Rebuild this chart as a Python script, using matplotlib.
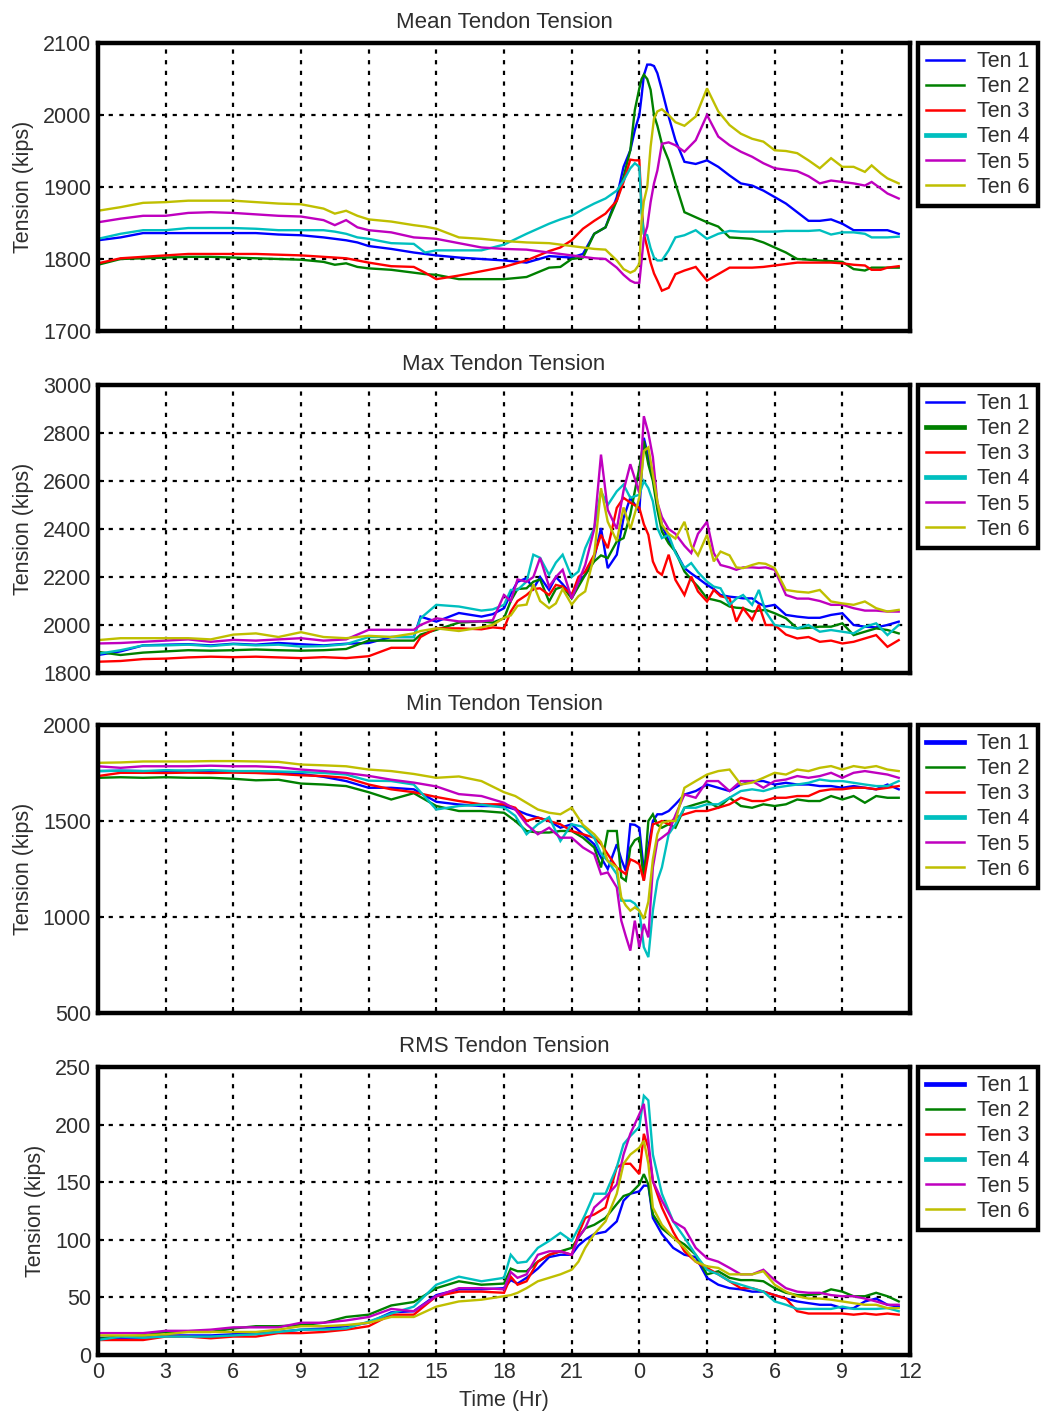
import matplotlib
matplotlib.use("Agg")
import matplotlib.pyplot as plt

plt.rcParams['font.family'] = ['Liberation Sans', 'DejaVu Sans']

# ---------------------------------------------------------------- labels
tendon_labels = ['Ten 1', 'Ten 2', 'Ten 3', 'Ten 4', 'Ten 5', 'Ten 6']
tendon_colors = ['#0000FF', '#008000', '#FF0000', '#00BFBF', '#BF00BF', '#BFBF00']
hour_ticks = [0, 3, 6, 9, 12, 15, 18, 21, 24, 27, 30, 33, 36]
hour_labels = ['0', '3', '6', '9', '12', '15', '18', '21', '0', '3', '6', '9', '12']

# ---------------------------------------------------------------- mean tension (kips)
mean_time = [0, 1, 2, 3, 4, 5, 6, 7, 8, 9, 10, 10.5, 11, 11.5, 12, 13, 14, 14.5, 15, 16, 17, 18,
             19, 20, 20.5, 21, 21.5, 22, 22.5, 23, 23.3, 23.6, 23.8, 24, 24.1, 24.2, 24.35, 24.5,
             24.65, 24.8, 25, 25.3, 25.6, 26, 26.5, 27, 27.5, 28, 28.5, 29, 29.5, 30, 30.5, 31,
             31.5, 32, 32.5, 33, 33.5, 34, 34.3, 34.7, 35, 35.5]
mean_ten1 = [1826, 1830, 1836, 1836, 1836, 1836, 1836, 1836, 1834, 1833, 1830,
             1828, 1826, 1823, 1818,
             1814, 1809, 1807, 1805, 1802, 1800, 1798,
             1795, 1804, 1803, 1802, 1807, 1835, 1844,
             1886, 1928, 1951, 1979, 2000,
             2026, 2055, 2070, 2070, 2068, 2058, 2035,
             1998, 1965, 1935, 1932, 1937, 1928, 1916,
             1905, 1902, 1895, 1886, 1877, 1865, 1853, 1853,
             1855, 1849, 1840, 1840, 1840, 1840, 1840, 1835]
mean_ten2 = [1792, 1800, 1801, 1802, 1803, 1803, 1802, 1801, 1800, 1799, 1796,
             1792, 1794, 1789, 1787,
             1785, 1781, 1779, 1778, 1772, 1772, 1772,
             1775, 1788, 1789, 1800, 1802, 1835, 1844,
             1881, 1914, 1951, 2007, 2037,
             2050, 2056, 2050, 2035, 2000, 1985, 1960,
             1937, 1905, 1865, 1858, 1851, 1845, 1830,
             1829, 1828, 1823, 1816, 1809, 1800, 1799, 1798,
             1797, 1796, 1786, 1784, 1788, 1788, 1788, 1788]
mean_ten3 = [1794, 1801, 1803, 1805, 1807, 1807, 1807, 1807, 1806, 1805, 1803,
             1802, 1801, 1798, 1795,
             1790, 1789, 1781, 1772, 1777, 1783, 1789,
             1798, 1811, 1816, 1826, 1842, 1853, 1863,
             1881, 1907, 1938, 1937, 1937,
             1872, 1835, 1816, 1795, 1780, 1770, 1756,
             1760, 1779, 1784, 1789, 1770, 1779, 1788,
             1788, 1788, 1789, 1791, 1793, 1795, 1795, 1795,
             1795, 1794, 1792, 1791, 1785, 1785, 1788, 1790]
mean_ten4 = [1828, 1835, 1840, 1840, 1843, 1843, 1843, 1842, 1840, 1840, 1840,
             1838, 1835, 1830, 1828,
             1822, 1821, 1809, 1812, 1812, 1812, 1820,
             1835, 1849, 1855, 1860, 1869, 1877, 1884,
             1895, 1909, 1926, 1933, 1928,
             1863, 1835, 1833, 1815, 1802, 1798, 1798,
             1812, 1830, 1833, 1840, 1828, 1835, 1839,
             1838, 1838, 1838, 1838, 1839, 1839, 1839, 1840,
             1834, 1837, 1837, 1835, 1830, 1830, 1830, 1831]
mean_ten5 = [1851, 1856, 1860, 1860, 1864, 1865, 1864, 1862, 1860, 1859, 1854,
             1847, 1854, 1844, 1840,
             1837, 1830, 1829, 1828, 1822, 1816, 1814,
             1813, 1809, 1807, 1805, 1803, 1801, 1800,
             1788, 1778, 1770, 1767, 1767,
             1798, 1830, 1845, 1879, 1905, 1923, 1960,
             1962, 1958, 1949, 1965, 2000, 1970, 1958,
             1949, 1942, 1933, 1926, 1924, 1922, 1915, 1905,
             1909, 1907, 1905, 1902, 1907, 1898, 1891, 1884]
mean_ten6 = [1867, 1872, 1878, 1879, 1881, 1881, 1881, 1879, 1877, 1876, 1870,
             1863, 1867, 1860, 1855,
             1852, 1847, 1845, 1842, 1830, 1828, 1825,
             1823, 1822, 1820, 1818, 1816, 1814, 1813,
             1798, 1786, 1781, 1784, 1793,
             1853, 1880, 1900, 1956, 1995, 2005, 2008,
             2000, 1990, 1985, 1998, 2037, 2005, 1986,
             1974, 1967, 1963, 1951, 1950, 1947, 1937, 1926,
             1940, 1928, 1928, 1921, 1930, 1919, 1912, 1905]

# ---------------------------------------------------------------- max tension (kips)
max_time = [0, 1, 2, 3, 4, 5, 6, 7, 8, 9, 10, 11, 12, 13, 14,
            14.3, 15, 16, 17, 17.5,
            18, 18.3, 18.6, 19, 19.3, 19.6, 20, 20.3, 20.6, 21, 21.3, 21.6, 22, 22.3, 22.6,
            23, 23.3, 23.6, 24, 24.2, 24.4, 24.6, 24.8, 25, 25.3, 25.6, 26, 26.3, 26.6,
            27, 27.3, 27.6, 28, 28.3, 28.6, 29, 29.3, 29.6, 30,
            30.5, 31, 31.5, 32, 32.5, 33, 33.5, 34, 34.5, 35, 35.5]
max_ten1 = [1875, 1890, 1915, 1918, 1920, 1915, 1922, 1918, 1925, 1920, 1915, 1922, 1925, 1950, 1950,
            2035, 2014, 2050, 2035, 2045,
            2070, 2130, 2180, 2195, 2150, 2200, 2146, 2200, 2170, 2125, 2180, 2209, 2279, 2404, 2237,
            2293, 2446, 2530, 2474, 2780, 2700, 2627, 2502, 2418, 2350, 2306, 2237, 2215, 2195,
            2167, 2150, 2125, 2118, 2115, 2111, 2111, 2090, 2077, 2084,
            2042, 2035, 2030, 2030, 2042, 2049, 2000, 1993, 1990, 2000, 2014]
max_ten2 = [1888, 1875, 1885, 1890, 1895, 1893, 1895, 1898, 1895, 1893, 1895, 1900, 1935, 1935, 1935,
            1960, 1980, 2010, 2015, 2010,
            2028, 2100, 2150, 2153, 2180, 2190, 2098, 2150, 2160, 2111, 2160, 2209, 2265, 2290, 2279,
            2348, 2362, 2460, 2655, 2767, 2669, 2600, 2480, 2390, 2340, 2306, 2223, 2190, 2160,
            2111, 2105, 2098, 2077, 2072, 2070, 2056, 2060, 2063, 2049,
            2028, 1986, 1988, 1993, 1993, 2007, 1958, 1972, 1986, 1979, 1965]
max_ten3 = [1847, 1850, 1858, 1860, 1865, 1868, 1866, 1868, 1865, 1862, 1866, 1862, 1870, 1905, 1905,
            1950, 1986, 1986, 1982, 1990,
            1986, 2056, 2100, 2125, 2150, 2153, 2125, 2167, 2160, 2125, 2200, 2223, 2293, 2376, 2320,
            2488, 2530, 2510, 2488, 2420, 2376, 2265, 2223, 2209, 2293, 2188, 2125, 2202, 2140,
            2098, 2146, 2120, 2111, 2014, 2070, 2021, 2084, 2000, 2000,
            1960, 1944, 1950, 1930, 1935, 1923, 1930, 1944, 1958, 1909, 1937]
max_ten4 = [1880, 1895, 1915, 1915, 1918, 1912, 1920, 1915, 1918, 1910, 1912, 1920, 1950, 1950, 1950,
            2028, 2084, 2077, 2060, 2065,
            2084, 2146, 2146, 2181, 2293, 2280, 2209, 2260, 2293, 2200, 2223, 2320, 2404, 2557, 2500,
            2557, 2585, 2530, 2543, 2600, 2570, 2515, 2404, 2362, 2376, 2300, 2237, 2258, 2220,
            2181, 2160, 2153, 2084, 2110, 2125, 2084, 2146, 2056, 2000,
            1993, 1986, 2000, 1972, 1979, 1972, 1965, 1993, 2007, 1958, 2000]
max_ten5 = [1923, 1925, 1930, 1935, 1940, 1930, 1938, 1935, 1940, 1945, 1935, 1940, 1980, 1980, 1980,
            2000, 2028, 2015, 2015, 2020,
            2125, 2100, 2190, 2180, 2200, 2280, 2160, 2200, 2230, 2110, 2180, 2250, 2400, 2710, 2480,
            2400, 2560, 2670, 2550, 2870, 2800, 2700, 2510, 2450, 2400, 2380, 2330, 2300, 2380,
            2430, 2300, 2250, 2240, 2230, 2240, 2240, 2238, 2240, 2230,
            2125, 2110, 2110, 2100, 2084, 2084, 2070, 2060, 2060, 2056, 2056]
max_ten6 = [1937, 1945, 1945, 1945, 1945, 1940, 1960, 1965, 1950, 1970, 1950, 1945, 1955, 1950, 1965,
            1975, 1986, 1975, 1990, 2000,
            2030, 2040, 2080, 2085, 2170, 2100, 2070, 2090, 2150, 2085, 2120, 2140, 2290, 2570, 2430,
            2350, 2490, 2400, 2530, 2725, 2740, 2627, 2515, 2418, 2380, 2360, 2430, 2330, 2290,
            2376, 2265, 2306, 2290, 2240, 2237, 2250, 2258, 2255, 2237,
            2146, 2139, 2135, 2146, 2098, 2090, 2084, 2098, 2070, 2056, 2063]

# ---------------------------------------------------------------- min tension (kips)
min_time = [0, 1, 2, 3, 4, 5, 6, 7, 8, 9, 10, 11, 12, 13, 14, 15, 16, 17, 18,
            18.5, 19, 19.5, 20, 20.5, 21, 21.5, 22, 22.3, 22.6, 23, 23.2, 23.4, 23.6, 23.8, 24,
            24.2, 24.4, 24.6, 24.8, 25, 25.3, 25.6, 26, 26.5, 27, 27.5, 28, 28.5, 29, 29.5, 30,
            30.5, 31, 31.5, 32, 32.5, 33, 33.5, 34, 34.5, 35, 35.5]
min_ten1 = [1760, 1762, 1760, 1758, 1762, 1760, 1760, 1758, 1750, 1745, 1730, 1708, 1673, 1673, 1665, 1600, 1586, 1578, 1578,
            1560, 1535, 1518, 1500, 1465, 1483, 1431, 1379, 1310, 1250, 1379, 1300, 1240, 1483, 1480, 1465,
            1240, 1362, 1500, 1535, 1535, 1552, 1587, 1638, 1656, 1690, 1673, 1656, 1690, 1708, 1708, 1690,
            1699, 1690, 1690, 1682, 1682, 1673, 1682, 1673, 1665, 1690, 1665]
min_ten2 = [1725, 1728, 1725, 1728, 1725, 1725, 1720, 1712, 1715, 1695, 1690, 1682, 1650, 1612, 1645, 1578, 1552, 1552, 1543,
            1500, 1448, 1440, 1440, 1448, 1448, 1413, 1362, 1258, 1448, 1448, 1206, 1189, 1362, 1400, 1413,
            1189, 1500, 1535, 1480, 1465, 1483, 1465, 1569, 1587, 1604, 1569, 1621, 1578, 1569, 1587, 1578,
            1587, 1612, 1604, 1604, 1630, 1612, 1630, 1595, 1630, 1621, 1621]
min_ten3 = [1734, 1751, 1751, 1750, 1752, 1750, 1752, 1750, 1745, 1738, 1734, 1725, 1690, 1665, 1650, 1625, 1604, 1587, 1587,
            1569, 1500, 1518, 1500, 1483, 1448, 1431, 1413, 1380, 1327, 1258, 1240, 1223, 1300, 1290, 1275,
            1189, 1327, 1483, 1490, 1500, 1483, 1518, 1535, 1552, 1552, 1569, 1587, 1621, 1604, 1604, 1621,
            1621, 1630, 1630, 1656, 1665, 1665, 1673, 1673, 1665, 1673, 1682]
min_ten4 = [1760, 1762, 1760, 1765, 1762, 1765, 1760, 1760, 1758, 1755, 1750, 1742, 1710, 1708, 1690, 1560, 1578, 1585, 1570,
            1527, 1431, 1483, 1520, 1396, 1483, 1470, 1413, 1330, 1292, 1223, 1085, 1085, 1085, 1070, 1033,
            843, 791, 1033, 1189, 1258, 1431, 1483, 1569, 1569, 1587, 1587, 1621, 1656, 1665, 1656, 1673,
            1682, 1690, 1699, 1716, 1708, 1708, 1699, 1690, 1682, 1682, 1708]
min_ten5 = [1785, 1777, 1785, 1785, 1785, 1788, 1785, 1785, 1780, 1768, 1760, 1750, 1735, 1715, 1700, 1680, 1640, 1630, 1595,
            1560, 1483, 1431, 1465, 1413, 1413, 1362, 1327, 1223, 1232, 1154, 981, 900, 825, 981, 843,
            964, 894, 1258, 1396, 1413, 1440, 1530, 1638, 1621, 1708, 1708, 1656, 1708, 1708, 1673, 1708,
            1716, 1734, 1725, 1734, 1751, 1725, 1751, 1760, 1751, 1742, 1725]
min_ten6 = [1803, 1805, 1810, 1810, 1810, 1812, 1812, 1810, 1808, 1794, 1790, 1785, 1768, 1760, 1745, 1725, 1732, 1708, 1650,
            1630, 1595, 1560, 1543, 1535, 1569, 1480, 1431, 1390, 1292, 1258, 1102, 1060, 1033, 1050, 1033,
            990, 1080, 1300, 1431, 1491, 1500, 1500, 1673, 1708, 1742, 1760, 1768, 1690, 1700, 1725, 1751,
            1742, 1768, 1760, 1777, 1786, 1768, 1786, 1777, 1786, 1768, 1760]

# ---------------------------------------------------------------- RMS tension (kips)
rms_time = [0, 1, 2, 3, 4, 5, 6, 7, 8, 9, 10, 11, 12, 13, 14, 15, 16, 17,
            18, 18.3, 18.6, 19, 19.5, 20, 20.5, 21, 21.3, 21.6, 22, 22.5, 23, 23.3, 23.6, 24,
            24.2, 24.4, 24.6, 25, 25.5, 26, 26.5, 27, 27.5, 28, 28.5, 29, 29.5, 30,
            30.5, 31, 31.5, 32, 32.5, 33, 33.5, 34, 34.5, 35, 35.5]
rms_ten1 = [15, 15, 15, 17, 17, 17, 18, 19, 20, 22, 23, 25, 28, 37, 38, 52, 57, 57,
            58, 65, 62, 67, 75, 85, 87, 87, 95, 100, 105, 107, 116, 134, 140, 142,
            147, 147, 119, 105, 93, 87, 85, 67, 61, 58, 57, 55, 55, 52,
            49, 46.5, 45, 43.6, 43.6, 40.7, 40.7, 46.5, 49, 43.6, 42]
rms_ten2 = [14, 16, 17, 20, 20, 20, 23, 25, 25, 26, 28, 33, 35, 43, 46, 58, 64, 61,
            62, 75, 72.7, 72.7, 81, 87, 90, 93, 102, 110, 113, 119, 131, 138, 140, 148,
            157, 148, 122, 110, 102, 96, 87, 70, 72.7, 67, 65, 65, 64, 58,
            54, 52, 52, 53, 57, 55, 51, 51, 54, 51, 46.5]
rms_ten3 = [13, 13, 13, 16, 16, 14.5, 16, 16, 19, 19, 20, 22, 25, 35, 35, 51, 55, 55,
            54, 68, 61, 64, 81, 87, 90, 87, 105, 119, 122, 128, 163, 166, 166, 157,
            192, 180, 151, 128, 107, 90, 81, 75.6, 70, 64, 58, 58, 55, 52,
            49, 38, 36, 36, 36, 36, 35, 36, 35, 36, 35]
rms_ten4 = [13, 16, 15, 16, 16, 16, 17, 18, 20, 22, 22, 23, 29, 36, 42, 61, 68, 64,
            67, 87, 80, 81, 93, 99, 106, 99, 110, 122, 140, 140, 163, 183, 190, 198,
            225, 221, 174, 140, 116, 102, 87, 74, 70, 64, 61, 58, 55, 46.5,
            43.6, 40, 40, 40, 40, 42, 40, 40, 40, 40.7, 38]
rms_ten5 = [19, 19, 19, 21, 21, 22, 24, 24, 24, 28, 28, 30, 33, 40, 38, 51, 58, 58,
            57, 72, 67, 70, 87, 90, 90, 87, 102, 110, 128, 137, 148, 174, 192, 209,
            218, 186, 151, 134, 116, 110, 93, 84, 81, 75.6, 70, 70, 74, 65,
            58, 55, 54, 54, 52, 51, 51, 49, 46.5, 43.6, 43.6]
rms_ten6 = [17, 17, 17, 18, 20, 20, 20, 20, 22, 25, 25, 26, 28, 33, 33, 42, 46.5, 48,
            51, 52, 54, 58, 64, 67, 70, 74, 81, 93, 105, 116, 140, 166, 174, 180,
            186, 166, 128, 113, 102, 93, 81, 77, 75.6, 70, 70, 70, 72.7, 61,
            55, 51, 49, 49, 48, 46.5, 45, 43.6, 43.6, 40.7, 40.7]

mean_ticks = [1700, 1800, 1900, 2000, 2100]
max_ticks = [1800, 2000, 2200, 2400, 2600, 2800, 3000]
min_ticks = [500, 1000, 1500, 2000]
rms_ticks = [0, 50, 100, 150, 200, 250]

# ---------------------------------------------------------------- figure
W, H = 1049, 1411
fig = plt.figure(figsize=(W / 100, H / 100), dpi=100)
fig.patch.set_facecolor('white')

TEXT = '#2e2e2e'
panels = [
    ('Mean Tendon Tension', mean_time,
     [mean_ten1, mean_ten2, mean_ten3, mean_ten4, mean_ten5, mean_ten6],
     mean_ticks, [1.8, 1.8, 1.8, 3.4, 1.8, 1.8], 43),
    ('Max Tendon Tension', max_time,
     [max_ten1, max_ten2, max_ten3, max_ten4, max_ten5, max_ten6],
     max_ticks, [1.8, 3.4, 1.8, 3.4, 1.8, 1.8], 385),
    ('Min Tendon Tension', min_time,
     [min_ten1, min_ten2, min_ten3, min_ten4, min_ten5, min_ten6],
     min_ticks, [3.4, 1.8, 1.8, 3.4, 1.8, 1.8], 725),
    ('RMS Tendon Tension', rms_time,
     [rms_ten1, rms_ten2, rms_ten3, rms_ten4, rms_ten5, rms_ten6],
     rms_ticks, [3.4, 1.8, 1.8, 3.4, 1.8, 1.8], 1067),
]

ax_left, ax_w, ax_h = 98, 812, 288
for i, (title, tt, series, yt, handle_w, top_px) in enumerate(panels):
    ax = fig.add_axes([ax_left / W, 1 - (top_px + ax_h) / H, ax_w / W, ax_h / H])
    for vals, col, lab in zip(series, tendon_colors, tendon_labels):
        ax.plot(tt, vals, color=col, lw=1.7, label=lab, solid_joinstyle='miter')
    ax.set_xlim(0, 36)
    ax.set_ylim(yt[0], yt[-1])
    ax.set_xticks(hour_ticks)
    ax.set_yticks(yt)
    ax.set_yticklabels([str(v) for v in yt])
    if i == len(panels) - 1:
        ax.set_xticklabels(hour_labels)
        ax.set_xlabel('Time (Hr)', fontsize=15.5, color=TEXT, labelpad=5)
    else:
        ax.set_xticklabels([])
    ax.set_axisbelow(True)
    ax.grid(True, color='black', lw=1.6, linestyle=(0, (1.9, 2.9)))
    for sp in ax.spines.values():
        sp.set_linewidth(3.2)
        sp.set_color('black')
    ax.tick_params(direction='in', length=4, width=1.5, labelsize=15.5,
                   labelcolor=TEXT, pad=5)
    ax.set_title(title, fontsize=16, color=TEXT, pad=11)
    ax.set_ylabel('Tension (kips)', fontsize=15.5, color=TEXT, labelpad=6)

    leg = ax.legend(loc='upper left', bbox_to_anchor=(1.01, 1.0), borderaxespad=0,
                    frameon=True, fancybox=False, edgecolor='black', framealpha=1,
                    fontsize=15.5, handlelength=1.75, handletextpad=0.6,
                    labelspacing=0.19, borderpad=0.38)
    leg.get_frame().set_linewidth(3.2)
    for txt in leg.get_texts():
        txt.set_color(TEXT)
    for ln, w in zip(leg.get_lines(), handle_w):
        ln.set_linewidth(w)

fig.savefig('out.png', dpi=100, facecolor='white')
